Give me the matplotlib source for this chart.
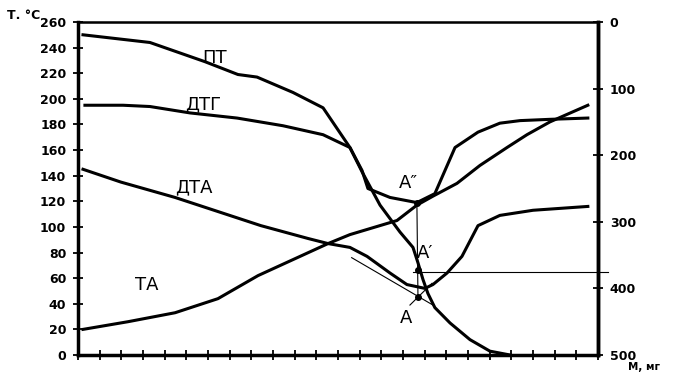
import matplotlib
matplotlib.use("Agg")
import matplotlib.pyplot as plt

# x in tick units (24 divisions along the bottom axis), y in deg C on the left scale
pt_x = [0.23, 3.32, 5.86, 7.38, 8.26, 9.92, 11.31, 12.55, 13.11, 13.38, 14.40, 15.64,
        16.47, 17.40, 18.46, 19.47, 20.40, 21.78, 23.53]
pt_t = [250, 244, 229, 219, 217, 205, 193, 162, 144, 130, 123, 119,
        126, 162, 174, 181, 183, 184, 185]

dtg_x = [0.32, 2.08, 3.32, 5.17, 7.34, 9.46, 11.31, 12.55, 13.11, 13.94, 14.86, 15.46,
         15.69, 15.92, 16.15, 16.47, 17.17, 18.09, 19.01, 19.94]
dtg_t = [195, 195, 194, 189, 185, 179, 172, 162, 143, 117, 96, 84,
         72, 59, 48, 37, 25, 12, 3, 0]

dta_x = [0.23, 1.98, 4.48, 6.46, 8.44, 10.61, 11.54, 12.55, 13.34, 14.40, 15.18, 16.01,
         16.38, 17.03, 17.72, 18.46, 19.47, 21.00, 23.53]
dta_t = [145, 135, 123, 112, 101, 91, 87, 84, 77, 64, 55, 52,
         55, 64, 77, 101, 109, 113, 116]

ta_x = [0.23, 2.31, 4.48, 6.46, 8.31, 11.54, 12.55, 14.72, 15.64, 16.38, 17.49, 18.55,
        19.80, 20.72, 21.78, 23.53]
ta_t = [20, 26, 33, 44, 62, 87, 94, 105, 117, 124, 134, 148,
        162, 172, 182, 195]

# construction points A'', A', A and helper lines
pts_x = [15.64, 15.69, 15.69]
pts_t = [119, 66, 45]
tang_x = [12.63, 16.38]
tang_t = [76, 39]
cross_x = [15.32, 16.34]
cross_t = [39, 56]
mass_level = 375   # mg, right scale

t_ticks = list(range(0, 261, 20))
m_ticks = list(range(0, 501, 100))

fig = plt.figure(figsize=(6.73, 3.74), dpi=100)
ax = fig.add_axes([0.1159, 0.0508, 0.7727, 0.8904])
ax.set_xlim(0, 24)
ax.set_ylim(0, 260)

lw = 2.2
ax.plot(pt_x, pt_t, color="black", lw=lw, solid_joinstyle="round")
ax.plot(dtg_x, dtg_t, color="black", lw=lw, solid_joinstyle="round")
ax.plot(dta_x, dta_t, color="black", lw=lw, solid_joinstyle="round")
ax.plot(ta_x, ta_t, color="black", lw=lw, solid_joinstyle="round")

ax.plot(tang_x, tang_t, color="black", lw=0.8)
ax.plot(cross_x, cross_t, color="black", lw=0.8)
ax.plot([pts_x[0], pts_x[2]], [pts_t[0], pts_t[2]], color="black", lw=0.8)
ax.plot(pts_x, pts_t, "o", color="black", ms=4)

ax.text(6.32, 232, "ПТ", fontsize=13, ha="center", va="center")
ax.text(5.77, 196, "ДТГ", fontsize=13, ha="center", va="center")
ax.text(5.35, 131, "ДТА", fontsize=13, ha="center", va="center")
ax.text(3.18, 55, "ТА", fontsize=13, ha="center", va="center")
ax.text(15.27, 134, "A\u2033", fontsize=13, ha="center", va="center")
ax.text(16.01, 80, "A\u2032", fontsize=13, ha="center", va="center")
ax.text(15.14, 29, "A", fontsize=13, ha="center", va="center")

ax.set_xticks(range(25))
ax.set_xticklabels([])
ax.set_yticks(t_ticks)
ax.tick_params(axis="both", direction="inout", length=7, width=1.3, color="black")
ax.tick_params(axis="y", labelsize=9, pad=5)
for lab in ax.get_yticklabels():
    lab.set_fontweight("bold")
for side in ["left", "bottom", "right"]:
    ax.spines[side].set_linewidth(2.5)
ax.spines["top"].set_linewidth(1.8)

# mass scale on the right
ax2 = ax.twinx()
ax2.set_ylim(500, 0)
ax2.set_yticks(m_ticks)
ax2.tick_params(axis="y", direction="inout", length=7, width=1.3, labelsize=9, pad=5)
for lab in ax2.get_yticklabels():
    lab.set_fontweight("bold")
ax2.spines["right"].set_linewidth(2.5)
ax2.plot([15.46, 24.45], [mass_level, mass_level], color="black", lw=0.8, clip_on=False)

fig.text(7 / 673, 1 - 19 / 374, "Т. °С", fontsize=9, fontweight="bold")
fig.text(628 / 673, 1 - 370 / 374, "М, мг", fontsize=7.5, fontweight="bold")

plt.savefig("out.png", dpi=100)
